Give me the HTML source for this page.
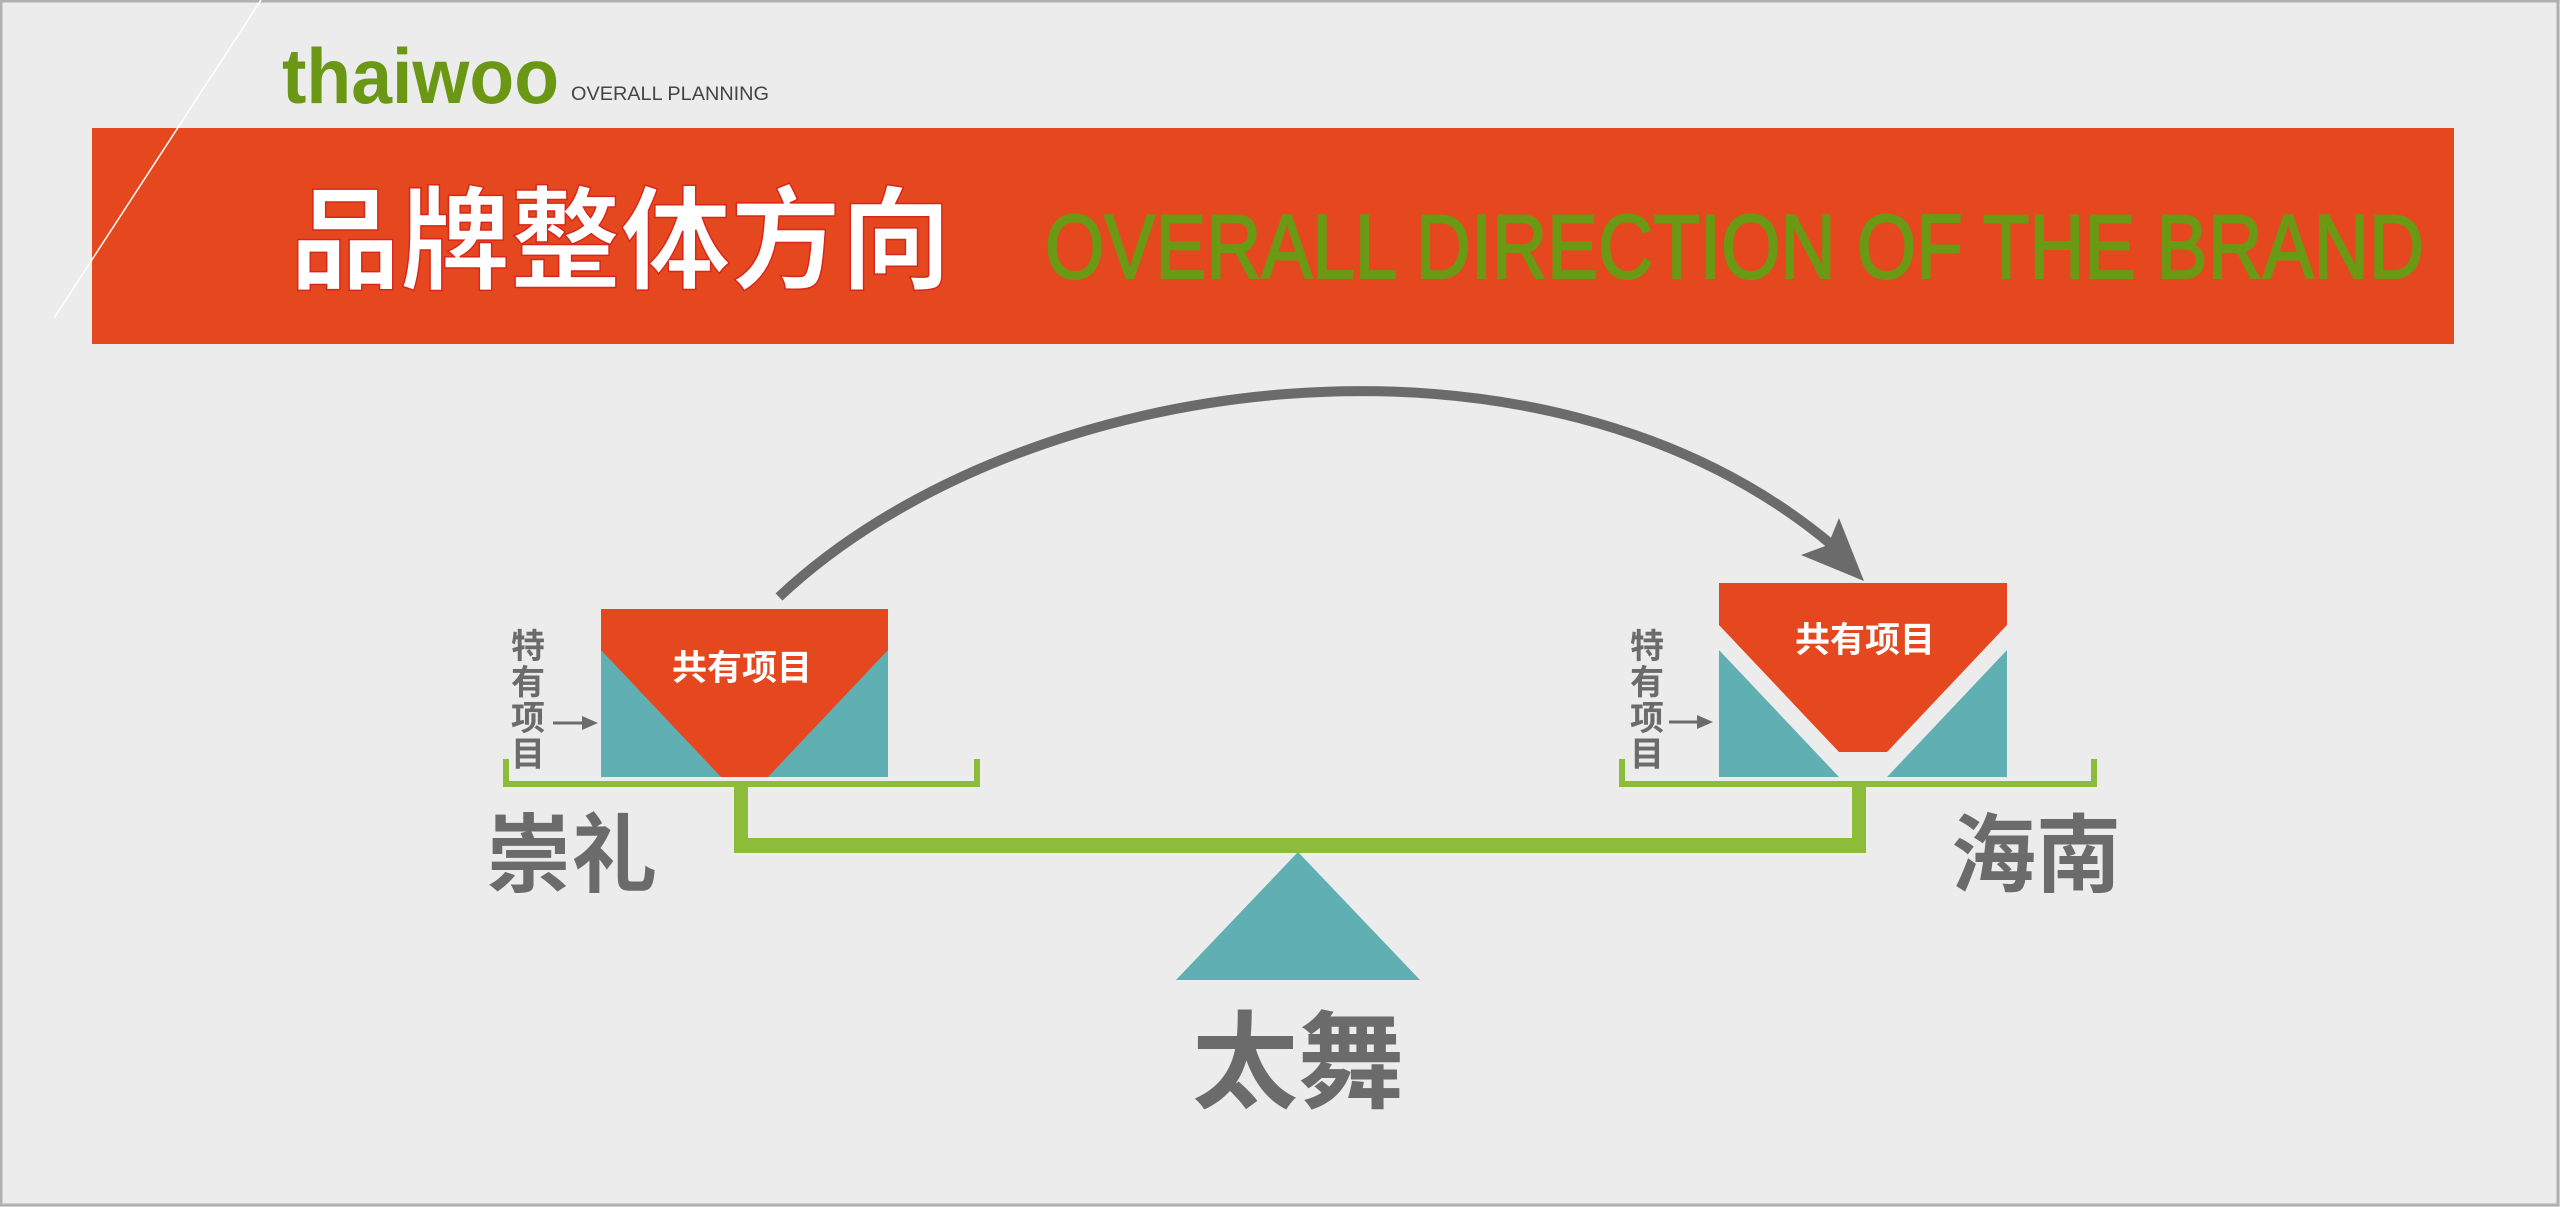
<!DOCTYPE html>
<html><head><meta charset="utf-8"><style>
html,body{margin:0;padding:0;background:#ececec;}
svg{display:block;}
</style></head><body>
<svg width="2560" height="1207" viewBox="0 0 2560 1207" xmlns="http://www.w3.org/2000/svg">
<rect x="0" y="0" width="2560" height="1207" fill="#ececec"/>
<rect x="1" y="1" width="2557" height="1204" fill="none" stroke="#b0b0b0" stroke-width="3"/>
<rect x="92" y="128" width="2362" height="216" fill="#e5481f"/>
<line x1="261" y1="0" x2="54" y2="318" stroke="#ffffff" stroke-width="1.5"/>
<text x="282" y="103" font-family="Liberation Sans, sans-serif" font-weight="bold" font-size="78" fill="#6a9814" textLength="277" lengthAdjust="spacingAndGlyphs">thaiwoo</text>
<text x="571" y="100" font-family="Liberation Sans, sans-serif" font-size="19" fill="#444" textLength="198" lengthAdjust="spacingAndGlyphs">OVERALL  PLANNING</text>
<text x="290" y="280" font-family="Liberation Sans, 'Noto Sans CJK SC', sans-serif" font-weight="bold" font-size="112" fill="#ffffff" stroke="#d8261a" stroke-width="1.5" textLength="661" lengthAdjust="spacingAndGlyphs">品牌整体方向</text>
<text x="1045" y="278" font-family="Liberation Sans, sans-serif" font-size="91" fill="#6a9a14" stroke="#6a9a14" stroke-width="2" textLength="1379" lengthAdjust="spacingAndGlyphs">OVERALL DIRECTION OF THE BRAND</text>

<!-- arc -->
<path d="M779,597 C1020,370 1540,300 1832,545" fill="none" stroke="#6b6b6b" stroke-width="10"/>
<polygon points="1864,581 1801,555 1828,545 1839,518" fill="#6b6b6b"/>

<!-- left box -->
<rect x="601" y="609" width="287" height="168" fill="#60b0b3"/>
<polygon points="601,609 888,609 888,650 768,777 721,777 601,650" fill="#e5481f"/>
<text x="672" y="680" font-family="Liberation Sans, 'Noto Sans CJK SC', sans-serif" font-weight="bold" font-size="35" fill="#fff" textLength="140" lengthAdjust="spacingAndGlyphs">共有项目</text>

<!-- right box -->
<polygon points="1719,650 1719,777 1839,777" fill="#60b0b3"/>
<polygon points="2007,650 2007,777 1887,777" fill="#60b0b3"/>
<polygon points="1719,583 2007,583 2007,625 1887,752 1839,752 1719,625" fill="#e5481f"/>
<text x="1795" y="652" font-family="Liberation Sans, 'Noto Sans CJK SC', sans-serif" font-weight="bold" font-size="35" fill="#fff" textLength="140" lengthAdjust="spacingAndGlyphs">共有项目</text>

<!-- vertical labels -->
<g font-family="Liberation Sans, 'Noto Sans CJK SC', sans-serif" font-weight="bold" font-size="34" fill="#6b6b6b">
<text x="511" y="658">特</text><text x="511" y="694">有</text><text x="511" y="730">项</text><text x="511" y="766">目</text>
<text x="1630" y="658">特</text><text x="1630" y="694">有</text><text x="1630" y="730">项</text><text x="1630" y="766">目</text>
</g>
<line x1="553" y1="723" x2="585" y2="723" stroke="#6b6b6b" stroke-width="3"/>
<polygon points="598,723 582,716 582,730" fill="#6b6b6b"/>
<line x1="1669" y1="722" x2="1700" y2="722" stroke="#6b6b6b" stroke-width="3"/>
<polygon points="1713,722 1697,715 1697,729" fill="#6b6b6b"/>

<!-- green scale -->
<g fill="#8dbb3a">
<rect x="503" y="759" width="6" height="28"/>
<rect x="503" y="781" width="477" height="6"/>
<rect x="974" y="759" width="6" height="28"/>
<rect x="1619" y="759" width="6" height="28"/>
<rect x="1619" y="781" width="478" height="6"/>
<rect x="2091" y="759" width="6" height="28"/>
<rect x="734" y="781" width="14" height="72"/>
<rect x="1852" y="781" width="14" height="72"/>
<rect x="734" y="838" width="1132" height="15"/>
</g>
<polygon points="1176,980 1420,980 1298,852" fill="#60b0b3"/>

<g font-family="Liberation Sans, 'Noto Sans CJK SC', sans-serif" font-weight="bold" fill="#6b6b6b">
<text x="486" y="885" font-size="86" textLength="171" lengthAdjust="spacingAndGlyphs">崇礼</text>
<text x="1951" y="885" font-size="86" textLength="170" lengthAdjust="spacingAndGlyphs">海南</text>
<text x="1192" y="1100" font-size="106" textLength="212" lengthAdjust="spacingAndGlyphs">太舞</text>
</g>
</svg>
</body></html>
